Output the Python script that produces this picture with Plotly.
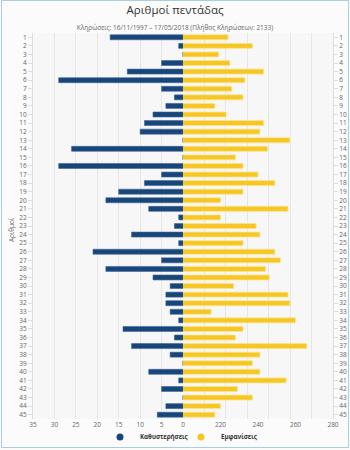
import plotly.graph_objects as go

numbers = [str(i) for i in range(1, 46)]
delays = [17, 1, 0, 5, 13, 29, 5, 2, 4, 7, 9, 10, 0, 26, 0, 29, 5, 9, 15, 18, 8, 1, 2,
          12, 1, 21, 5, 18, 7, 3, 4, 4, 3, 1, 14, 2, 12, 3, 0, 8, 1, 5, 0, 4, 6]
appearances = [224, 237, 219, 225, 243, 233, 226, 232, 217, 223, 243, 241, 257, 245,
               228, 232, 240, 249, 232, 220, 256, 220, 239, 241, 232, 249, 252, 244,
               246, 227, 256, 257, 215, 260, 232, 228, 266, 241, 237, 241, 255, 229,
               237, 220, 217]
left_ticks = [0, 5, 10, 15, 20, 25, 30, 35]
right_ticks = [220, 240, 260, 280]

title = "Αριθμοί πεντάδας"
subtitle = "Κληρώσεις: 16/11/1997 – 17/05/2018 (Πλήθος Κληρώσεων: 2133)"
name_delay = "Καθυστερήσεις"
name_app = "Εμφανίσεις"

BLUE = "#184679"
YELLOW = "#f5c624"
FONT = "Open Sans, DejaVu Sans, sans-serif"

W, H = 350, 450
L, R, T, B = 33, 17, 33, 31
pw, ph = W - L - R, H - T - B

fig = go.Figure()
fig.add_trace(go.Bar(x=delays, y=numbers, orientation="h", xaxis="x", yaxis="y",
                     marker=dict(color=BLUE, line=dict(color="#3a66a0", width=0.6)),
                     showlegend=False, name=name_delay))
fig.add_trace(go.Bar(x=appearances, y=numbers, orientation="h", xaxis="x2", yaxis="y2",
                     marker=dict(color=YELLOW, line=dict(color="#fbe48a", width=0.8)),
                     showlegend=False, name=name_app))
# legend entries with circle symbols
fig.add_trace(go.Scatter(x=[None], y=[None], mode="markers", name=name_delay,
                         marker=dict(color=BLUE, size=7, symbol="circle")))
fig.add_trace(go.Scatter(x=[None], y=[None], mode="markers", name=name_app,
                         marker=dict(color=YELLOW, size=7, symbol="circle")))
# invisible spacer entry so the last legend label is not clipped
fig.add_trace(go.Scatter(x=[None], y=[None], mode="markers", name=" ",
                         marker=dict(color="rgba(0,0,0,0)", size=1)))

cat_axis = dict(type="category", categoryorder="array", categoryarray=numbers,
                range=[44.5, -0.5], showgrid=False, zeroline=False,
                showline=True, linecolor="#d8dde6", linewidth=1,
                ticks="outside", ticklen=4, tickcolor="#d8dde6", automargin=False,
                tickfont=dict(size=6.5, color="#666666", family=FONT))

fig.update_layout(
    width=W, height=H,
    margin=dict(l=L, r=R, t=T, b=B, autoexpand=False),
    paper_bgcolor="#fbfbfb", plot_bgcolor="#f7f7f7",
    bargap=0.42,
    font=dict(family=FONT, color="#333333"),
    title=dict(text=title, x=0.5, xanchor="center", y=1 - 10 / H, yanchor="middle",
               yref="container",
               font=dict(size=11.5, color="#333333", family=FONT),
               subtitle=dict(text=subtitle, font=dict(size=6.5, color="#666666", family=FONT))),
    xaxis=dict(domain=[0, 0.5], range=[35, 0], tickvals=left_ticks,
               showgrid=True, gridcolor="#e6e6e6", gridwidth=1, zeroline=False,
               showline=False, ticks="", anchor="y", automargin=False,
               tickfont=dict(size=6.5, color="#666666", family=FONT)),
    xaxis2=dict(domain=[0.5, 1], range=[200, 280], tickvals=right_ticks,
                showgrid=False, zeroline=False, showline=False, ticks="", anchor="y2",
                automargin=False,
                minor=dict(tick0=200, dtick=80 / 7, showgrid=True, gridcolor="#e6e6e6",
                           gridwidth=1, ticks=""),
                tickfont=dict(size=6.5, color="#666666", family=FONT)),
    yaxis=dict(**cat_axis, side="left", anchor="x"),
    yaxis2=dict(**cat_axis, side="right", overlaying="y", anchor="x2"),
    legend=dict(orientation="h", x=(120 - 20) / W, xanchor="left", xref="container",
                y=1 - 437 / H, yanchor="middle", yref="container",
                bgcolor="rgba(0,0,0,0)",
                font=dict(size=6.2, color="#333333", family=FONT, weight="bold"),
                itemwidth=30, tracegroupgap=0, entrywidth=36, entrywidthmode="pixels"),
    annotations=[dict(text="Αριθμοί", textangle=-90, xref="paper", yref="paper",
                      x=(11 - L) / pw, y=(H - B - 230) / ph, showarrow=False,
                      xanchor="center", yanchor="middle",
                      font=dict(size=6.5, color="#666666", family=FONT))],
    shapes=[dict(type="rect", xref="paper", yref="paper",
                 x0=(1.5 - L) / pw, x1=(348.5 - L) / pw,
                 y0=(H - B - 447.5) / ph, y1=(H - B - 0.5) / ph,
                 line=dict(color="#a8cfe0", width=1), fillcolor="rgba(0,0,0,0)",
                 layer="below")],
)

fig.write_html("out.html")
